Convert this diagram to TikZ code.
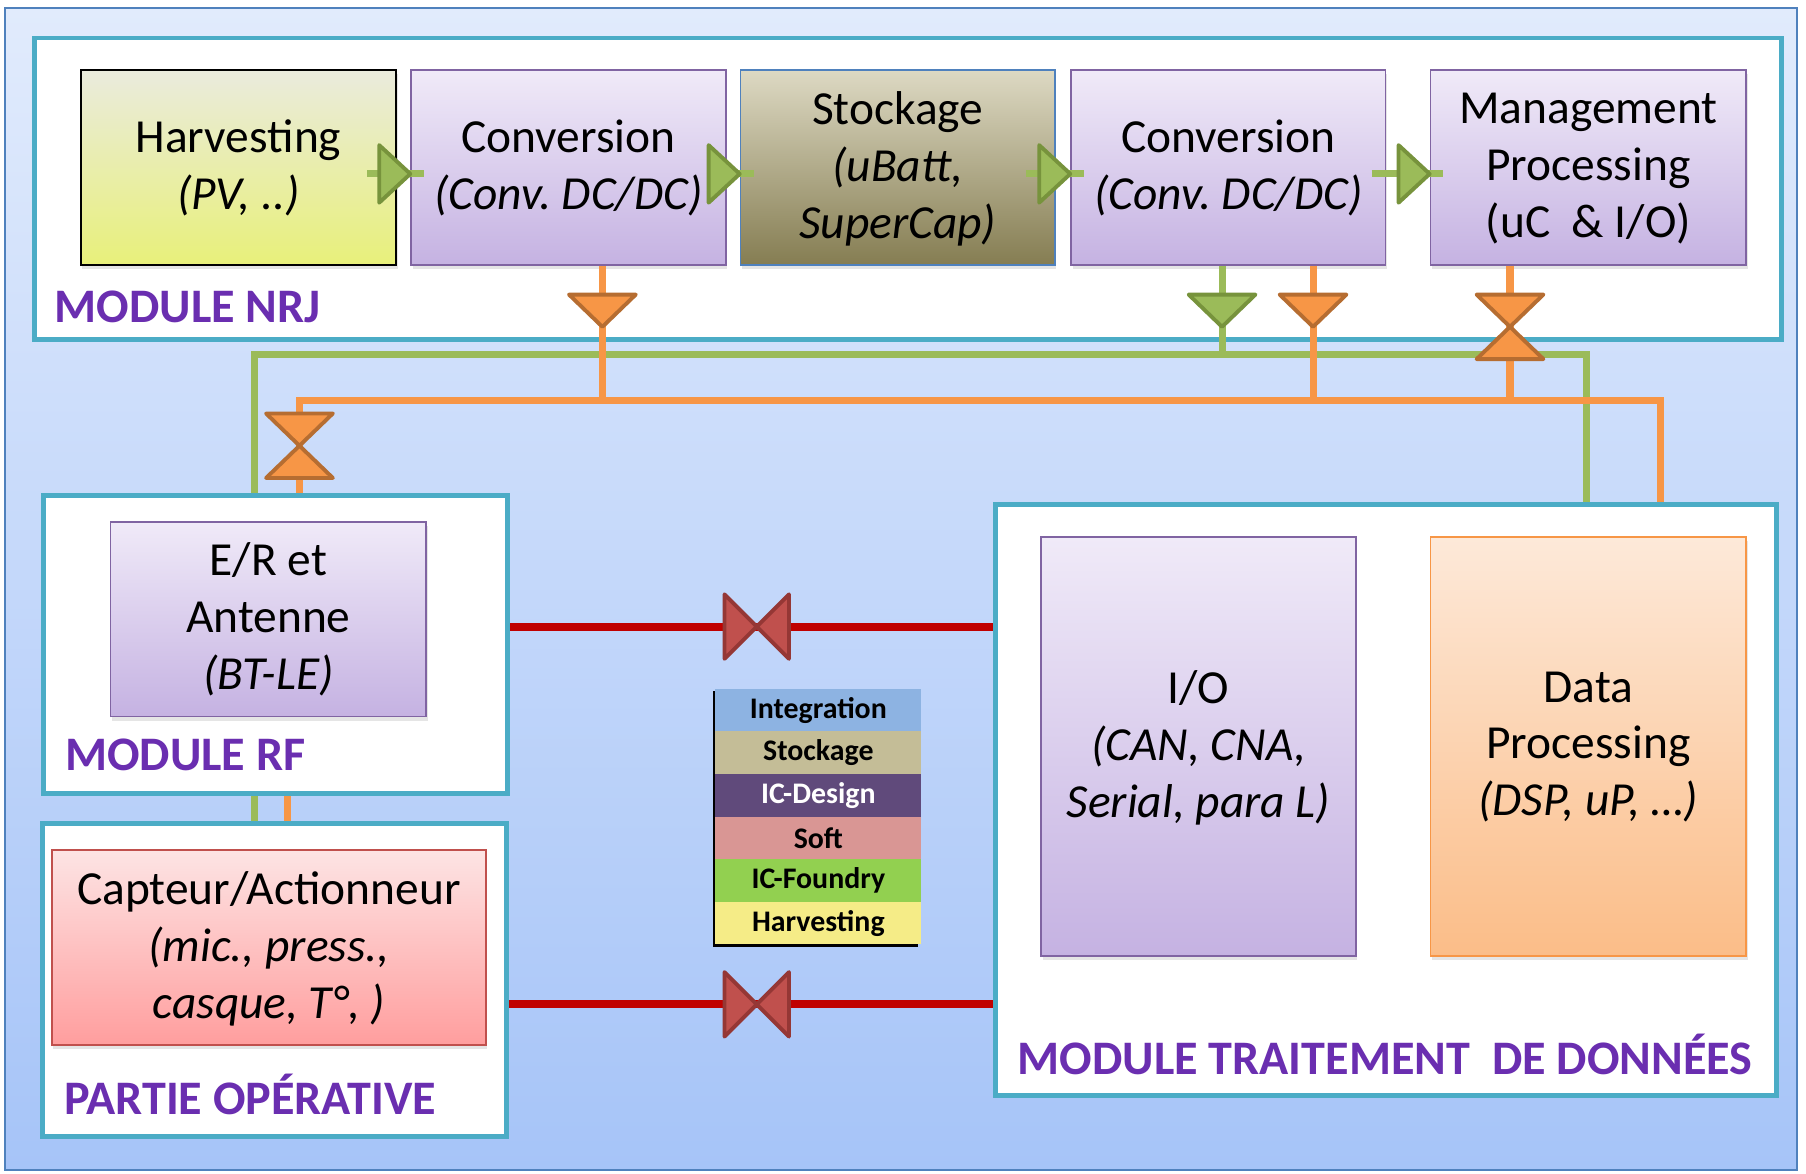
\documentclass[tikz,border=0pt]{standalone}
\usepackage{fontspec}
\setmainfont{Carlito}
\frenchspacing
\usetikzlibrary{calc,shadows}

\definecolor{modteal}{HTML}{4BACC6}
\definecolor{bgtop}{HTML}{E1EBFC}
\definecolor{bgbot}{HTML}{A6C4F8}
\definecolor{bgline}{HTML}{4F81BD}
\definecolor{purpletop}{HTML}{F0EAF8}
\definecolor{purplebot}{HTML}{C5B2E2}
\definecolor{purpleline}{HTML}{8064A2}
\definecolor{harvtop}{HTML}{EAEBDD}
\definecolor{harvbot}{HTML}{E8F07A}
\definecolor{stocktop}{HTML}{DDD9C3}
\definecolor{stockbot}{HTML}{857D52}
\definecolor{capttop}{HTML}{FDE4E4}
\definecolor{captbot}{HTML}{FF9E9E}
\definecolor{captline}{HTML}{C0504D}
\definecolor{dsptop}{HTML}{FDE9D9}
\definecolor{dspbot}{HTML}{FBBD88}
\definecolor{dspline}{HTML}{F79646}
\definecolor{nrjgreen}{HTML}{9BBB59}
\definecolor{greenedge}{HTML}{77933C}
\definecolor{nrjorange}{HTML}{F79646}
\definecolor{orangeedge}{HTML}{B66D31}
\definecolor{datared}{HTML}{C00000}
\definecolor{valvered}{HTML}{C0504D}
\definecolor{rededge}{HTML}{953735}
\definecolor{labelpurple}{HTML}{6A2EB0}
\definecolor{legint}{HTML}{8DB3E2}
\definecolor{legstock}{HTML}{C4BD97}
\definecolor{legic}{HTML}{604A7B}
\definecolor{legsoft}{HTML}{D99694}
\definecolor{legfound}{HTML}{92D050}
\definecolor{legharv}{HTML}{F5EC87}

\newcommand{\px}{0.011518cm}
\newcommand{\boxfont}{\fontsize{13.5}{16.2}\selectfont}
\newcommand{\labfont}{\fontsize{13.7}{16}\selectfont\bfseries}
\newcommand{\legfont}{\fontsize{8.5}{10}\selectfont\bfseries}

\tikzset{
    modbox/.style={draw=modteal,line width=1.4pt,fill=white,inner sep=0pt},
    blk/.style={line width=0.5pt,minimum width=273*\px,minimum height=169*\px,align=center,inner sep=0pt,font=\boxfont,
        text depth=1.5pt,drop shadow={opacity=0.2,shadow xshift=0.4pt,shadow yshift=-1.2pt}},
    pblk/.style={blk,draw=purpleline,top color=purpletop,bottom color=purplebot},
    modlabel/.style={font=\labfont,text=labelpurple,anchor=base west,inner sep=0pt},
    legrow/.style={minimum width=179*\px,minimum height=37*\px,inner sep=0pt,font=\legfont},
    gline/.style={draw=nrjgreen,line width=2pt},
    oline/.style={draw=nrjorange,line width=2pt},
    rline/.style={draw=datared,line width=2.3pt},
    gvalve/.style={fill=nrjgreen,draw=greenedge,line width=1.1pt,line join=round},
    ovalve/.style={fill=nrjorange,draw=orangeedge,line width=1.1pt,line join=round},
    rvalve/.style={fill=valvered,draw=rededge,line width=1.1pt,line join=round},
    triright/.pic={\filldraw (-27,-25) -- (0,0) -- (-27,25) -- cycle;},
    tridown/.pic={\filldraw (-29,0) -- (29,0) -- (0,28) -- cycle;},
    hourglass/.pic={\filldraw (-29,-28) -- (29,-28) -- (-29,28) -- (29,28) -- cycle;},
    bowtie/.pic={\filldraw (-28,-28) -- (28,28) -- (28,-28) -- (-28,28) -- cycle;}
}

\begin{document}
\begin{tikzpicture}[x=0.011518cm,y=-0.011518cm]
\useasboundingbox (0,0) rectangle (1568,1019);
\draw[bgline,line width=0.6pt,top color=bgtop,bottom color=bgbot] (4,7) rectangle (1560,1016);

% modules
\node[modbox,minimum width=1517*\px,minimum height=262*\px] (nrj) at (788.5,164) {};
\node[modbox,minimum width=403*\px,minimum height=259*\px] (rf) at (239.5,559.5) {};
\node[modbox,minimum width=403*\px,minimum height=272*\px] (op) at (238.5,851) {};
\node[modbox,minimum width=678*\px,minimum height=513*\px] (trt) at (1203,694.5) {};

% blocks
\node[blk,draw=black,top color=harvtop,bottom color=harvbot,minimum width=274*\px] (harv) at (207,145.5)
    {Harvesting\\ \textit{(PV, ..)}};
\node[pblk] (conv1) at (493.5,145.5) {Conversion\\ \textit{(Conv. DC/DC)}};
\node[blk,draw=bgline,top color=stocktop,bottom color=stockbot] (stock) at (779.5,145.5)
    {Stockage\\ \textit{(uBatt,}\\ \textit{SuperCap)}};
\node[pblk] (conv2) at (1066.5,145.5) {Conversion\\ \textit{(Conv. DC/DC)}};
\node[pblk,minimum width=274*\px] (mgmt) at (1379,145.5) {Management\\ Processing\\ (uC~ \& I/O)};
\node[pblk,minimum width=274*\px] (er) at (233,537.5) {E/R et\\ Antenne\\ \textit{(BT-LE)}};
\node[blk,draw=captline,top color=capttop,bottom color=captbot,minimum width=377*\px] (capt) at (233.5,822.5)
    {Capteur/Actionneur\\ \textit{(mic., press.,}\\ \textit{casque, T°, )}};
\node[pblk,minimum height=364*\px] (io) at (1040.5,648) {I/O\\ \textit{(CAN, CNA,}\\ \textit{Serial, para L)}};
\node[blk,draw=dspline,top color=dsptop,bottom color=dspbot,minimum width=274*\px,minimum height=364*\px] (dsp) at (1379,648)
    {Data\\ Processing\\ \textit{(DSP, uP, …)}};

% energy chain
\foreach \a/\b/\s in {harv/conv1/26, conv1/stock/12, stock/conv2/26, conv2/mgmt/13}{
    \draw[gline] ($(\a.east)+(-\s,5.5)$) -- ($(\b.west)+(12,5.5)$);
    \pic[gvalve] at ($(\b.west)+(0,5.5)$) {triright};
}

% buses
\coordinate (gL) at (221,308);
\coordinate (gR) at (1377,308);
\coordinate (oL) at (260,348);
\coordinate (oR) at (1442,348);
\coordinate (orf) at (250,0);
\coordinate (c1o) at ($(conv1.south)+(29.5,0)$);
\coordinate (c2g) at ($(conv2.south)+(-5.5,0)$);
\coordinate (c2o) at ($(conv2.south)+(73.5,0)$);
\coordinate (mo) at ($(mgmt.south)+(-68,0)$);

\draw[gline] (rf.north -| gL) -- (gL) -- (gR) -- (trt.north -| gR);
\draw[gline] (rf.south -| gL) -- (op.north -| gL);
\draw[gline] (c2g) -- (c2g |- gL);
\draw[oline] (rf.north -| oL) -- (oL) -- (oR) -- (trt.north -| oR);
\draw[oline] (rf.south -| orf) -- (op.north -| orf);
\draw[oline] (c1o) -- (c1o |- oL);
\draw[oline] (c2o) -- (c2o |- oL);
\draw[oline] (mo) -- (mo |- oL);

\pic[ovalve] at ($(c1o)+(0,25)$) {tridown};
\pic[gvalve] at ($(c2g)+(0,25)$) {tridown};
\pic[ovalve] at ($(c2o)+(0,25)$) {tridown};
\pic[ovalve] at ($(mo)+(0,53)$) {hourglass};
\pic[ovalve] at ($(oL)+(0,39)$) {hourglass};

% data links
\coordinate (rv1) at (657,544);
\coordinate (rv2) at (657,872);
\draw[rline] (rf.east |- rv1) -- (trt.west |- rv1);
\draw[rline] (op.east |- rv2) -- (trt.west |- rv2);
\pic[rvalve] at (rv1) {bowtie};
\pic[rvalve] at (rv2) {bowtie};

% module labels
\node[modlabel] (nrjlab) at (47,280) {MODULE NRJ};
\node[modlabel] (rflab) at (56,669) {MODULE RF};
\node[modlabel] (oplab) at (55,968) {PARTIE OPÉRATIVE};
\node[modlabel] (trtlab) at (883,933) {MODULE TRAITEMENT~~DE DONNÉES};

% legend
\fill[black] (619,600) rectangle (797,822);
\foreach \lab/\col/\txt [count=\i] in {Integration/legint/black, Stockage/legstock/black, IC-Design/legic/white,
    Soft/legsoft/black, IC-Foundry/legfound/black, Harvesting/legharv/black}
    \node[legrow,fill=\col,text=\txt] (leg\i) at (710.5,579.5+37*\i) {\lab};
\end{tikzpicture}
\end{document}
